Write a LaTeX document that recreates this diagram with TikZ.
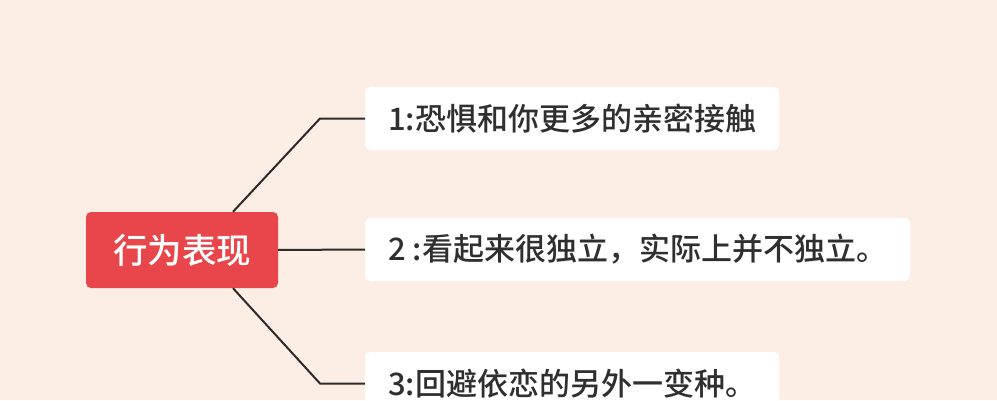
\documentclass[tikz,border=0pt]{standalone}
\usepackage{fontspec}
\newfontfamily\cjk[UprightFont={* Medium}]{Noto Sans CJK SC}
\usetikzlibrary{positioning}

\definecolor{bgpeach}{HTML}{FCEEE5}
\definecolor{rootred}{HTML}{E8464A}
\definecolor{linkgray}{HTML}{2E2A28}
\definecolor{textgray}{HTML}{2F2F2F}

\begin{document}
\begin{tikzpicture}[
    x=1pt, y=1pt,
    root/.style={fill=rootred, rounded corners=5pt, minimum width=192pt,
        minimum height=76pt, text=white, font=\cjk\fontsize{34.5}{34.5}\selectfont},
    leaf/.style={fill=white, rounded corners=5pt, anchor=west, inner xsep=23pt,
        minimum height=63pt, text=textgray, font=\cjk\fontsize{31}{31}\selectfont},
    link/.style={draw=linkgray, line width=2pt}
]
    \fill[bgpeach] (0,0) rectangle (997,400);
    \useasboundingbox (0,0) rectangle (997,400);

    \node[root]      (root) at (182,150)   {行为表现};
    \node[leaf]      (b1)   at (365,281.5) {1:恐惧和你更多的亲密接触};
    \node[leaf]      (b2)   at (365,150.5) {2 :看起来很独立，实际上并不独立。};
    \node[leaf]      (b3)   at (365,16.5)  {3:回避依恋的另外一变种。};

    \draw[link] ([xshift=51pt]root.north) -- ([xshift=-45pt]b1.west) -- (b1.west);
    \draw[link] (root.east) -- (b2.west);
    \draw[link] ([xshift=51pt]root.south) -- ([xshift=-45pt]b3.west) -- (b3.west);
\end{tikzpicture}
\end{document}
